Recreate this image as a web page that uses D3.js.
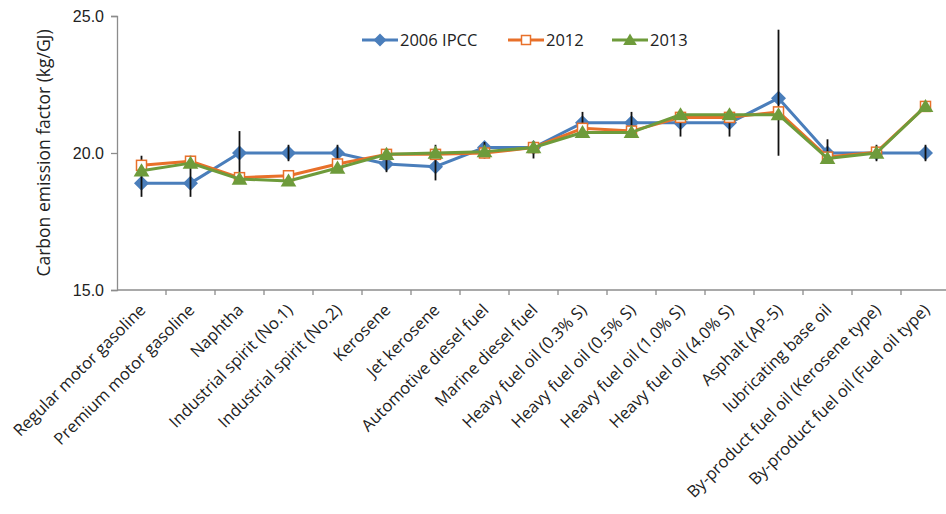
<!DOCTYPE html>
<html>
<head>
<meta charset="utf-8">
<script src="https://cdn.jsdelivr.net/npm/d3@7"></script>
<style>
  html, body { margin: 0; padding: 0; background: #fff; }
  svg { display: block; font-family: "Open Sans", "Noto Sans", "DejaVu Sans", sans-serif; }
</style>
</head>
<body>
<svg id="chart" width="946" height="514"></svg>
<script>
// Fuel categories along the x axis
const categories = [
  "Regular motor gasoline", "Premium motor gasoline", "Naphtha",
  "Industrial spirit (No.1)", "Industrial spirit (No.2)", "Kerosene",
  "Jet kerosene", "Automotive diesel fuel", "Marine diesel fuel",
  "Heavy fuel oil (0.3% S)", "Heavy fuel oil (0.5% S)", "Heavy fuel oil (1.0% S)",
  "Heavy fuel oil (4.0% S)", "Asphalt (AP-5)", "lubricating base oil",
  "By-product fuel oil (Kerosene type)", "By-product fuel oil (Fuel oil type)"
];

// Carbon emission factors (kg/GJ)
const ipcc2006 = [18.9, 18.9, 20.0, 20.0, 20.0, 19.6, 19.5, 20.2, 20.2, 21.1, 21.1, 21.1, 21.1, 22.0, 20.0, 20.0, 20.0];
const ipccLower = [18.4, 18.4, 18.9, 19.7, 19.7, 19.3, 19.0, 19.8, 19.8, 20.6, 20.6, 20.6, 20.6, 19.9, 19.6, 19.7, 19.7];
const ipccUpper = [19.9, 19.9, 20.8, 20.3, 20.3, 20.1, 20.3, 20.4, 20.4, 21.5, 21.5, 21.5, 21.5, 24.5, 20.5, 20.3, 20.3];
const values2012 = [19.55, 19.7, 19.1, 19.17, 19.6, 19.95, 19.95, 20.0, 20.2, 20.9, 20.8, 21.3, 21.3, 21.5, 19.85, 20.03, 21.7];
const values2013 = [19.35, 19.63, 19.05, 18.98, 19.45, 19.95, 20.0, 20.05, 20.2, 20.75, 20.75, 21.4, 21.4, 21.4, 19.8, 20.0, 21.7];

const yTicks = [15, 20, 25];
const seriesNames = ["2006 IPCC", "2012", "2013"];

const colors = { ipcc: "#4A7EBB", y2012: "#E8702A", y2013: "#6E9B3B" };
const axisColor = "#8C8C8C";
const textColor = "#222";

const svg = d3.select("#chart");

const x = d3.scaleBand().domain(categories).range([117, 950]).padding(0);
const y = d3.scaleLinear().domain([15, 25]).range([290, 16]);
const cx = d => x(d) + x.bandwidth() / 2;

// Y axis
const yAxis = svg.append("g")
  .attr("transform", "translate(117,0)")
  .call(d3.axisLeft(y).tickValues(yTicks).tickFormat(d3.format(".1f")).tickSizeOuter(0).tickSize(6).tickPadding(7));
yAxis.select(".domain").attr("stroke", axisColor).attr("stroke-width", 1.3);
yAxis.selectAll(".tick line").attr("stroke", axisColor).attr("stroke-width", 1.3);
yAxis.selectAll(".tick text").attr("fill", textColor).style("font-size", "16px");

// X axis with ticks at band boundaries
const xAxis = svg.append("g").attr("transform", "translate(0,290)");
xAxis.append("line")
  .attr("x1", 117).attr("x2", 950).attr("y1", 0).attr("y2", 0)
  .attr("stroke", axisColor).attr("stroke-width", 1.3);
xAxis.selectAll("line.tick")
  .data(categories.slice(1).concat(["__end"]))
  .join("line")
  .attr("class", "tick")
  .attr("x1", (d, i) => 117 + x.bandwidth() * (i + 1))
  .attr("x2", (d, i) => 117 + x.bandwidth() * (i + 1))
  .attr("y1", 0).attr("y2", 5)
  .attr("stroke", axisColor).attr("stroke-width", 1.3);
xAxis.selectAll("text")
  .data(categories)
  .join("text")
  .attr("transform", d => `translate(${cx(d) + 1},${17}) rotate(-45)`)
  .attr("text-anchor", "end")
  .attr("dy", "0.35em")
  .attr("fill", textColor)
  .style("font-size", "16.5px")
  .text(d => d);

// Y axis title
svg.append("text")
  .attr("transform", "translate(44,153) rotate(-90)")
  .attr("text-anchor", "middle")
  .attr("dy", "0.35em")
  .attr("fill", textColor)
  .style("font-size", "17.5px")
  .text("Carbon emission factor (kg/GJ)");

const line = d3.line().x(d => cx(d.cat)).y(d => y(d.v));
const pts = arr => categories.map((c, i) => ({ cat: c, v: arr[i], i }));

const diamond = s => `M0,${-s} L${s},0 L0,${s} L${-s},0 Z`;
const triangle = s => `M0,${-s} L${s * 1.05},${s * 0.75} L${-s * 1.05},${s * 0.75} Z`;

// 2006 IPCC series
svg.append("path").datum(pts(ipcc2006))
  .attr("d", line).attr("fill", "none")
  .attr("stroke", colors.ipcc).attr("stroke-width", 3).attr("stroke-linejoin", "round");
svg.selectAll("path.ipcc").data(pts(ipcc2006)).join("path")
  .attr("class", "ipcc")
  .attr("transform", d => `translate(${cx(d.cat)},${y(d.v)})`)
  .attr("d", diamond(7.5)).attr("fill", colors.ipcc);

// IPCC uncertainty ranges
svg.selectAll("line.err").data(categories).join("line")
  .attr("class", "err")
  .attr("x1", d => cx(d)).attr("x2", d => cx(d))
  .attr("y1", (d, i) => y(ipccUpper[i])).attr("y2", (d, i) => y(ipccLower[i]))
  .attr("stroke", "#111").attr("stroke-width", 1.8);

// 2012 series
svg.append("path").datum(pts(values2012))
  .attr("d", line).attr("fill", "none")
  .attr("stroke", colors.y2012).attr("stroke-width", 3).attr("stroke-linejoin", "round");
svg.selectAll("rect.y2012").data(pts(values2012)).join("rect")
  .attr("class", "y2012")
  .attr("x", d => cx(d.cat) - 5).attr("y", d => y(d.v) - 5)
  .attr("width", 10).attr("height", 10)
  .attr("fill", "#fff").attr("stroke", colors.y2012).attr("stroke-width", 1.5);

// 2013 series
svg.append("path").datum(pts(values2013))
  .attr("d", line).attr("fill", "none")
  .attr("stroke", colors.y2013).attr("stroke-width", 3).attr("stroke-linejoin", "round");
svg.selectAll("path.y2013").data(pts(values2013)).join("path")
  .attr("class", "y2013")
  .attr("transform", d => `translate(${cx(d.cat)},${y(d.v)})`)
  .attr("d", triangle(7.5)).attr("fill", colors.y2013);

// Legend
const legendItems = [
  { name: seriesNames[0], color: colors.ipcc, x: 362, marker: "diamond" },
  { name: seriesNames[1], color: colors.y2012, x: 508, marker: "square" },
  { name: seriesNames[2], color: colors.y2013, x: 612, marker: "triangle" }
];
const lg = svg.append("g").attr("transform", "translate(0,40)");
legendItems.forEach(it => {
  const g = lg.append("g").attr("transform", `translate(${it.x},0)`);
  g.append("line").attr("x1", 0).attr("x2", 36).attr("y1", 0).attr("y2", 0)
    .attr("stroke", it.color).attr("stroke-width", 3);
  if (it.marker === "diamond") {
    g.append("path").attr("transform", "translate(18,0)").attr("d", diamond(6.5)).attr("fill", it.color);
  } else if (it.marker === "square") {
    g.append("rect").attr("x", 13.5).attr("y", -4.5).attr("width", 9).attr("height", 9)
      .attr("fill", "#fff").attr("stroke", it.color).attr("stroke-width", 1.5);
  } else {
    g.append("path").attr("transform", "translate(18,0)").attr("d", triangle(6.5)).attr("fill", it.color);
  }
  g.append("text").attr("x", 38).attr("dy", "0.35em")
    .attr("fill", textColor).style("font-size", "16.5px").text(it.name);
});
</script>
</body>
</html>
